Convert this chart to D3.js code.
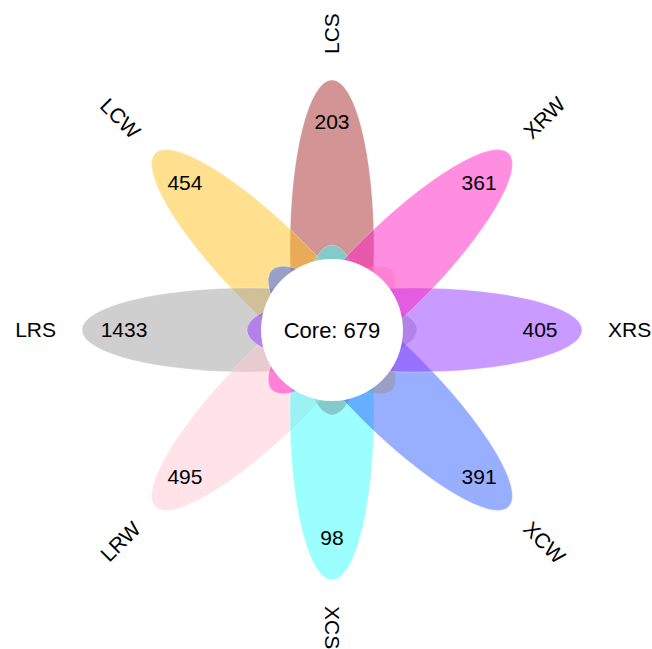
<!DOCTYPE html>
<html>
<head>
<meta charset="utf-8">
<script src="https://cdn.jsdelivr.net/npm/d3@7"></script>
<style>
  html, body { margin: 0; padding: 0; background: #fff; }
  svg { display: block; }
  text { font-family: "Liberation Sans", Arial, Helvetica, sans-serif; fill: #000; }
</style>
</head>
<body>
<svg id="chart" width="652" height="649"></svg>
<script>
// Samples and the number of OTUs unique to each one
const categories = ["LCS", "XRW", "XRS", "XCW", "XCS", "LRW", "LRS", "LCW"];
const uniqueCounts = [203, 361, 405, 391, 98, 495, 1433, 454];
const petalColors = ["#a52a2a", "#ff1dc1", "#9335ff", "#315fff", "#37ffff", "#ffc8d1", "#9f9f9f", "#ffc11f"];
const coreLabel = "Core";
const coreCount = 679;

const width = 652, height = 649;
const cx = 332, cy = 330;

const outerReach = 250;   // petal tip distance from the centre
const innerReach = 85;    // petal runs past the centre by this much
const petalHalfWidth = 42;
const coreRadius = 71;
const countRadius = 208;
const labelRadius = 276;

const svg = d3.select("#chart");
const g = svg.append("g").attr("transform", `translate(${cx},${cy})`);

// angle of each petal, clockwise from 12 o'clock
const angle = d3.scalePoint()
  .domain(categories)
  .range([-90, -90 + 360 * (categories.length - 1) / categories.length]);

const color = d3.scaleOrdinal().domain(categories).range(petalColors);

const data = categories.map((c, i) => ({ name: c, count: uniqueCounts[i] }));

// petals are stacked in alphabetical order of sample name
const stacked = data.slice().sort((a, b) => d3.ascending(a.name, b.name));

const petalCenter = (outerReach - innerReach) / 2;
const petalRx = (outerReach + innerReach) / 2;

g.selectAll("ellipse.petal")
  .data(stacked)
  .join("ellipse")
  .attr("class", "petal")
  .attr("cx", petalCenter)
  .attr("cy", 0)
  .attr("rx", petalRx)
  .attr("ry", petalHalfWidth)
  .attr("transform", d => `rotate(${angle(d.name)})`)
  .attr("fill", d => color(d.name))
  .attr("fill-opacity", 0.5)
  .attr("stroke", "#ffffff")
  .attr("stroke-opacity", 0.35)
  .attr("stroke-width", 0.8);

// core circle
g.append("circle")
  .attr("r", coreRadius)
  .attr("fill", "#ffffff");

g.append("text")
  .attr("text-anchor", "middle")
  .attr("dy", "0.35em")
  .style("font-size", "22px")
  .text(`${coreLabel}: ${coreCount}`);

const rad = a => a * Math.PI / 180;

// unique counts inside each petal
g.selectAll("text.count")
  .data(data)
  .join("text")
  .attr("class", "count")
  .attr("x", d => countRadius * Math.cos(rad(angle(d.name))))
  .attr("y", d => countRadius * Math.sin(rad(angle(d.name))))
  .attr("text-anchor", "middle")
  .attr("dy", "0.35em")
  .style("font-size", "21px")
  .text(d => d.count);

// sample names, reading outward
g.selectAll("text.name")
  .data(data)
  .join("text")
  .attr("class", "name")
  .each(function (d) {
    const a = angle(d.name);
    const x = labelRadius * Math.cos(rad(a));
    const y = labelRadius * Math.sin(rad(a));
    const leftSide = Math.cos(rad(a)) < -1e-6;
    d3.select(this)
      .attr("transform", `translate(${x},${y}) rotate(${leftSide ? a + 180 : a})`)
      .attr("text-anchor", leftSide ? "end" : "start");
  })
  .attr("dy", "0.35em")
  .style("font-size", "21px")
  .text(d => d.name);
</script>
</body>
</html>
